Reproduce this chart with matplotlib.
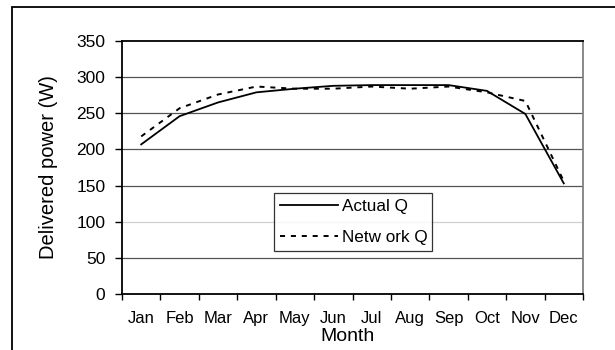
import matplotlib.pyplot as plt
from matplotlib.patches import Rectangle

plt.rcParams['font.family'] = ['Liberation Sans', 'DejaVu Sans']

months = ['Jan', 'Feb', 'Mar', 'Apr', 'May', 'Jun',
          'Jul', 'Aug', 'Sep', 'Oct', 'Nov', 'Dec']
actual_q = [207, 246, 265, 279, 284, 288, 289, 289, 289, 281, 249, 153]
network_q = [218, 257, 276, 287, 284, 284, 287, 284, 287, 279, 267, 156]
y_ticks = [0, 50, 100, 150, 200, 250, 300, 350]

fig = plt.figure(figsize=(6.15, 3.5), dpi=100)
ax = fig.add_axes([122 / 615, 56 / 350, 461 / 615, 253 / 350])

# outer chart frame (only left and top edges fall inside the image)
fig.patches.append(Rectangle((12 / 615, -0.1), 1.2, 0.1 + 343 / 350,
                             transform=fig.transFigure, fill=False,
                             edgecolor='black', linewidth=1.3))

x = range(len(months))
for yv in y_ticks[1:-1]:
    ax.axhline(yv, color='#d0d0d0' if yv == 100 else '#555555',
               linewidth=0.9, zorder=1)

ax.plot(x, actual_q, color='black', linewidth=1.3, label='Actual Q', zorder=3)
ax.plot(x, network_q, color='black', linewidth=1.4, linestyle=(0, (2.6, 3.0)),
        label='Netw ork Q', zorder=3)

ax.set_xlim(-0.5, 11.5)
ax.set_ylim(0, 350)
ax.set_yticks(y_ticks)
# category boundaries carry the tick marks, centres carry the labels
ax.set_xticks([i + 0.5 for i in range(-1, 12)])
ax.set_xticklabels([])
ax.set_xticks(list(x), minor=True)
ax.set_xticklabels(months, minor=True)
ax.tick_params(axis='x', which='major', direction='out', length=4, width=1)
ax.tick_params(axis='x', which='minor', length=0, pad=12, labelsize=12)
ax.tick_params(axis='y', direction='out', length=5, width=1, pad=7,
               labelsize=12.5)

ax.spines['left'].set_linewidth(1.3)
ax.spines['bottom'].set_linewidth(1.3)
ax.spines['top'].set_linewidth(1.3)
ax.spines['right'].set_color('#808080')
ax.spines['right'].set_linewidth(1.3)

ax.set_ylabel('Delivered power (W)', fontsize=14.5)
ax.yaxis.set_label_coords(-(122 - 58) / 461, 0.5)
ax.set_xlabel('Month', fontsize=14)
ax.xaxis.set_label_coords(0.49, -0.135)

leg = ax.legend(loc='lower left', bbox_to_anchor=(0.33, 0.17, 0.342, 0.245),
                mode='expand', fancybox=False, frameon=True, fontsize=12.3,
                handlelength=3.4, handletextpad=0.2, borderpad=0.35,
                labelspacing=0.95, borderaxespad=0)
leg.get_frame().set_edgecolor('black')
leg.get_frame().set_linewidth(0.9)

fig.savefig('out.png', dpi=100)
